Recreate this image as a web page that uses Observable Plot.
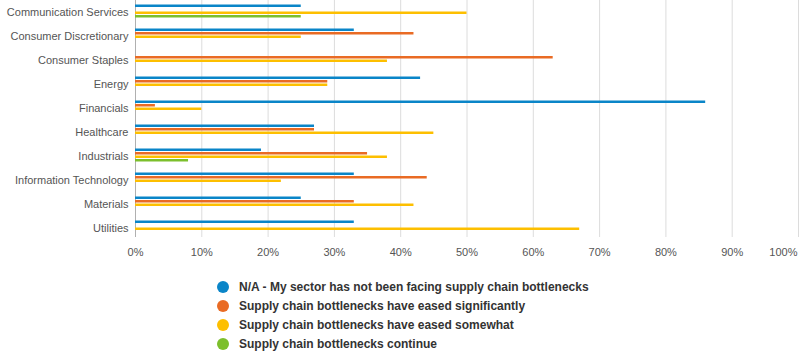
<!DOCTYPE html>
<html>
<head>
<meta charset="utf-8">
<script src="https://cdn.jsdelivr.net/npm/d3@7"></script>
<script src="https://cdn.jsdelivr.net/npm/@observablehq/plot@0.6"></script>
<style>
  body { margin: 0; background: #fff; font-family: "Liberation Sans", Arial, sans-serif; }
  #chart svg { display: block; }
  #legend { margin-top: 15px; padding-left: 217px; }
  .item { display: flex; align-items: center; height: 19px; font-size: 12px; font-weight: bold; color: #333; }
  .dot { width: 12px; height: 12px; border-radius: 50%; margin-right: 10px; flex: none; }
</style>
</head>
<body>
<div id="chart"></div>
<div id="legend"></div>
<script>
const categories = ["Communication Services", "Consumer Discretionary", "Consumer Staples", "Energy", "Financials", "Healthcare", "Industrials", "Information Technology", "Materials", "Utilities"];
const seriesNames = [
  "N/A - My sector has not been facing supply chain bottlenecks",
  "Supply chain bottlenecks have eased significantly",
  "Supply chain bottlenecks have eased somewhat",
  "Supply chain bottlenecks continue"
];
const seriesColors = ["#0a85c8", "#e96b24", "#fdbf00", "#7cbf2c"];
const naValues          = [25, 33, 0, 43, 86, 27, 19, 33, 25, 33];
const easedSignificant  = [0, 42, 63, 29, 3, 27, 35, 44, 33, 0];
const easedSomewhat     = [50, 25, 38, 29, 10, 45, 38, 22, 42, 67];
const continueValues    = [25, 0, 0, 0, 0, 0, 8, 0, 0, 0];
const xTicks = [0, 10, 20, 30, 40, 50, 60, 70, 80, 90, 100];

const seriesValues = [naValues, easedSignificant, easedSomewhat, continueValues];
const data = [];
seriesValues.forEach((vals, s) => vals.forEach((v, i) => data.push({category: categories[i], series: seriesNames[s], value: v, s})));

const step = 3.5;
const pct = d => d + "%";
const marks = [
  Plot.ruleX(xTicks.slice(1), {stroke: "#dcdcdc", insetBottom: 3}),
  Plot.ruleX([0], {stroke: "#b0b0b0", insetBottom: 3}),
  ...seriesNames.map((name, s) => Plot.barX(data.filter(d => d.s === s && d.value > 0), {
    x: "value", y: "category", fill: seriesColors[s],
    insetTop: 10.75, insetBottom: 10.75, dy: (s - 1.5) * step - 1
  })),
  Plot.axisY({tickSize: 0, tickPadding: 7, fontSize: 11, color: "#555", label: null}),
  Plot.axisX({ticks: xTicks.slice(0, -1), tickSize: 0, tickPadding: 8, fontSize: 11, color: "#555", tickFormat: pct, label: null}),
  Plot.axisX({ticks: xTicks.slice(-1), tickSize: 0, tickPadding: 8, fontSize: 11, color: "#555", tickFormat: pct, label: null, textAnchor: "end", dx: -1})
];

const chart = Plot.plot({
  width: 803,
  height: 262,
  marginLeft: 135,
  marginRight: 5,
  marginTop: 0,
  marginBottom: 22,
  style: {fontFamily: "Liberation Sans, Arial, sans-serif", color: "#555"},
  x: {domain: [0, 100], ticks: xTicks},
  y: {domain: categories, padding: 0, round: false},
  marks
});
document.getElementById("chart").appendChild(chart);

const legend = document.getElementById("legend");
seriesNames.forEach((name, s) => {
  const item = document.createElement("div");
  item.className = "item";
  const dot = document.createElement("span");
  dot.className = "dot";
  dot.style.background = seriesColors[s];
  const label = document.createElement("span");
  label.textContent = name;
  item.appendChild(dot);
  item.appendChild(label);
  legend.appendChild(item);
});
</script>
</body>
</html>
